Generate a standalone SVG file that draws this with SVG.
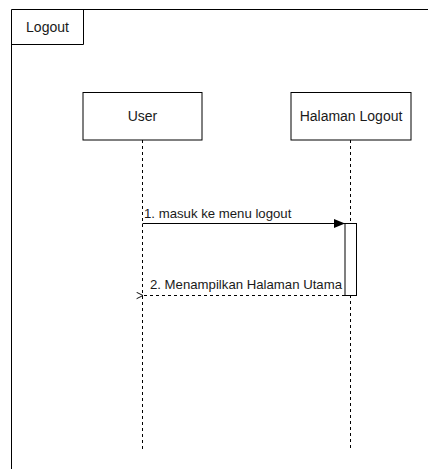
<svg xmlns="http://www.w3.org/2000/svg" width="428" height="469" viewBox="0 0 428 469">
<style>
text{font-family:"Liberation Sans",Arial,sans-serif;fill:#1a1a1a}
.box{fill:#fff;stroke:#000;stroke-width:1}
.life{stroke:#000;stroke-width:1;stroke-dasharray:3 3;fill:none}
.msg{stroke:#000;stroke-width:1;fill:none}
.ret{stroke:#000;stroke-width:1;stroke-dasharray:3 3;fill:none}
.nl{font-size:14px;text-anchor:middle}
.ml{font-size:13.2px}
</style>
<defs>
<marker id="filled" viewBox="0 0 10 10" refX="10" refY="5" markerWidth="11" markerHeight="11" markerUnits="userSpaceOnUse" orient="auto">
<path d="M0,1 L10,5 L0,9 Z" fill="#000"/>
</marker>
<marker id="open" viewBox="0 0 10 10" refX="1" refY="5" markerWidth="8" markerHeight="8" markerUnits="userSpaceOnUse" orient="auto">
<path d="M9,1 L1,5 L9,9" fill="none" stroke="#000" stroke-width="1.2"/>
</marker>
</defs>
<g id="frame">
<path d="M11.5,469 L11.5,9.5 L428,9.5" fill="none" stroke="#000" stroke-width="1"/>
<path d="M11.5,44.5 L83.5,44.5 L83.5,9.5" fill="none" stroke="#000" stroke-width="1"/>
<text x="47.5" y="31.5" class="nl">Logout</text>
</g>
<g id="connectors">
<line class="life" x1="142.5" y1="140" x2="142.5" y2="450"/>
<line class="life" x1="350.5" y1="140" x2="350.5" y2="223"/>
<line class="life" x1="350.5" y1="295" x2="350.5" y2="450"/>
<line class="msg" x1="142.5" y1="223.5" x2="345" y2="223.5" marker-end="url(#filled)"/>
<line class="ret" x1="345" y1="295.5" x2="143" y2="295.5" marker-end="url(#open)"/>
<text x="144" y="218" class="ml">1. masuk ke menu logout</text>
<text x="342" y="289" class="ml" text-anchor="end">2. Menampilkan Halaman Utama</text>
</g>
<g id="user">
<rect class="box" x="83" y="92.5" width="119" height="47.5"/>
<text x="142.5" y="121" class="nl">User</text>
</g>
<g id="halaman-logout">
<rect class="box" x="291" y="92.5" width="120" height="47.5"/>
<text x="351" y="121" class="nl">Halaman Logout</text>
</g>
<g id="activation">
<rect class="box" x="345" y="223.5" width="11.5" height="72"/>
</g>
</svg>
